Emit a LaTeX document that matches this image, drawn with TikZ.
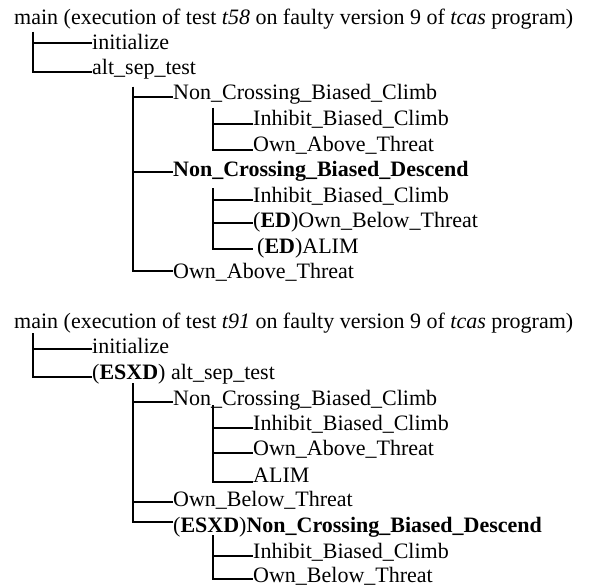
\documentclass[tikz,border=0pt]{standalone}
\usepackage{fontspec}
\setmainfont{Liberation Serif}
\tikzset{
  lbl/.style={anchor=base west, inner sep=0pt, font=\fontsize{22}{26}\selectfont},
  treeline/.style={line width=1.7pt, line cap=butt},
}
\begin{document}
\begin{tikzpicture}[x=1pt,y=-1pt]
\useasboundingbox (0,0) rectangle (590,586);
% ---------------- tree 1 ----------------
\node[lbl] (m1) at (14,25) {main (execution of test \textit{t58} on faulty version 9 of \textit{tcas} program)};
\node[lbl] (a1) at (92,50) {initialize};
\node[lbl] (a2) at (92,75) {alt\_sep\_test};
\node[lbl] (b1) at (173,100) {Non\_Crossing\_Biased\_Climb};
\node[lbl] (c1) at (253,126) {Inhibit\_Biased\_Climb};
\node[lbl] (c2) at (253,151) {Own\_Above\_Threat};
\node[lbl] (b2) at (173,177) {\textbf{Non\_Crossing\_Biased\_Descend}};
\node[lbl] (c3) at (253,202) {Inhibit\_Biased\_Climb};
\node[lbl] (c4) at (253,227) {(\textbf{ED})Own\_Below\_Threat};
\node[lbl] (c5) at (257,253) {(\textbf{ED})ALIM};
\node[lbl] (b3) at (173,278) {Own\_Above\_Threat};
\coordinate (v1) at ([xshift=19pt,yshift=-7pt]m1.base west);
\coordinate (v2) at ([xshift=41pt,yshift=-12pt]a2.base west);
\coordinate (v3) at ([xshift=40pt,yshift=-8pt]b1.base west);
\coordinate (v4) at ([xshift=40pt,yshift=-11pt]b2.base west);
\draw[treeline] (v1) |- ([yshift=7pt]a1.base west);
\draw[treeline] (v1) |- ([yshift=3pt]a2.base west);
\draw[treeline] (v2) |- ([yshift=3pt]b1.base west);
\draw[treeline] (v2) |- ([yshift=5pt]b2.base west);
\draw[treeline] (v2) |- ([yshift=7pt]b3.base west);
\draw[treeline] (v3) |- ([yshift=2pt]c1.base west);
\draw[treeline] (v3) |- ([yshift=1pt]c2.base west);
\draw[treeline] (v4) |- ([yshift=2pt]c3.base west);
\draw[treeline] (v4) |- ([yshift=4pt]c4.base west);
\draw[treeline] (v4) |- ([xshift=-4pt,yshift=4pt]c5.base west);
% ---------------- tree 2 ----------------
\node[lbl] (m2) at (14,328) {main (execution of test \textit{t91} on faulty version 9 of \textit{tcas} program)};
\node[lbl] (d1) at (92,353) {initialize};
\node[lbl] (d2) at (92,379) {(\textbf{ESXD}) alt\_sep\_test};
\node[lbl] (e1) at (173,405) {Non\_Crossing\_Biased\_Climb};
\node[lbl] (f1) at (253,430) {Inhibit\_Biased\_Climb};
\node[lbl] (f2) at (253,455) {Own\_Above\_Threat};
\node[lbl] (f3) at (253,482) {ALIM};
\node[lbl] (e2) at (173,506) {Own\_Below\_Threat};
\node[lbl] (e3) at (173,532) {(\textbf{ESXD})\textbf{Non\_Crossing\_Biased\_Descend}};
\node[lbl] (f4) at (253,558) {Inhibit\_Biased\_Climb};
\node[lbl] (f5) at (253,582) {Own\_Below\_Threat};
\coordinate (w1) at ([xshift=19pt,yshift=-5pt]m2.base west);
\coordinate (w2) at ([xshift=41pt,yshift=-4pt]d2.base west);
\coordinate (w3) at ([xshift=40pt,yshift=0pt]e1.base west);
\coordinate (w4) at ([xshift=40pt,yshift=-3pt]e3.base west);
\draw[treeline] (w1) |- ([yshift=4pt]d1.base west);
\draw[treeline] (w1) |- ([yshift=2pt]d2.base west);
\draw[treeline] (w2) |- ([yshift=3pt]e1.base west);
\draw[treeline] (w2) |- ([yshift=4pt]e2.base west);
\draw[treeline] (w2) |- ([yshift=10pt]e3.base west);
\draw[treeline] (w3) |- ([yshift=2pt]f1.base west);
\draw[treeline] (w3) |- ([yshift=2pt]f2.base west);
\draw[treeline] (w3) |- ([yshift=0pt]f3.base west);
\draw[treeline] (w4) |- ([yshift=2pt]f4.base west);
\draw[treeline] (w4) |- ([yshift=3pt]f5.base west);
\end{tikzpicture}
\end{document}
